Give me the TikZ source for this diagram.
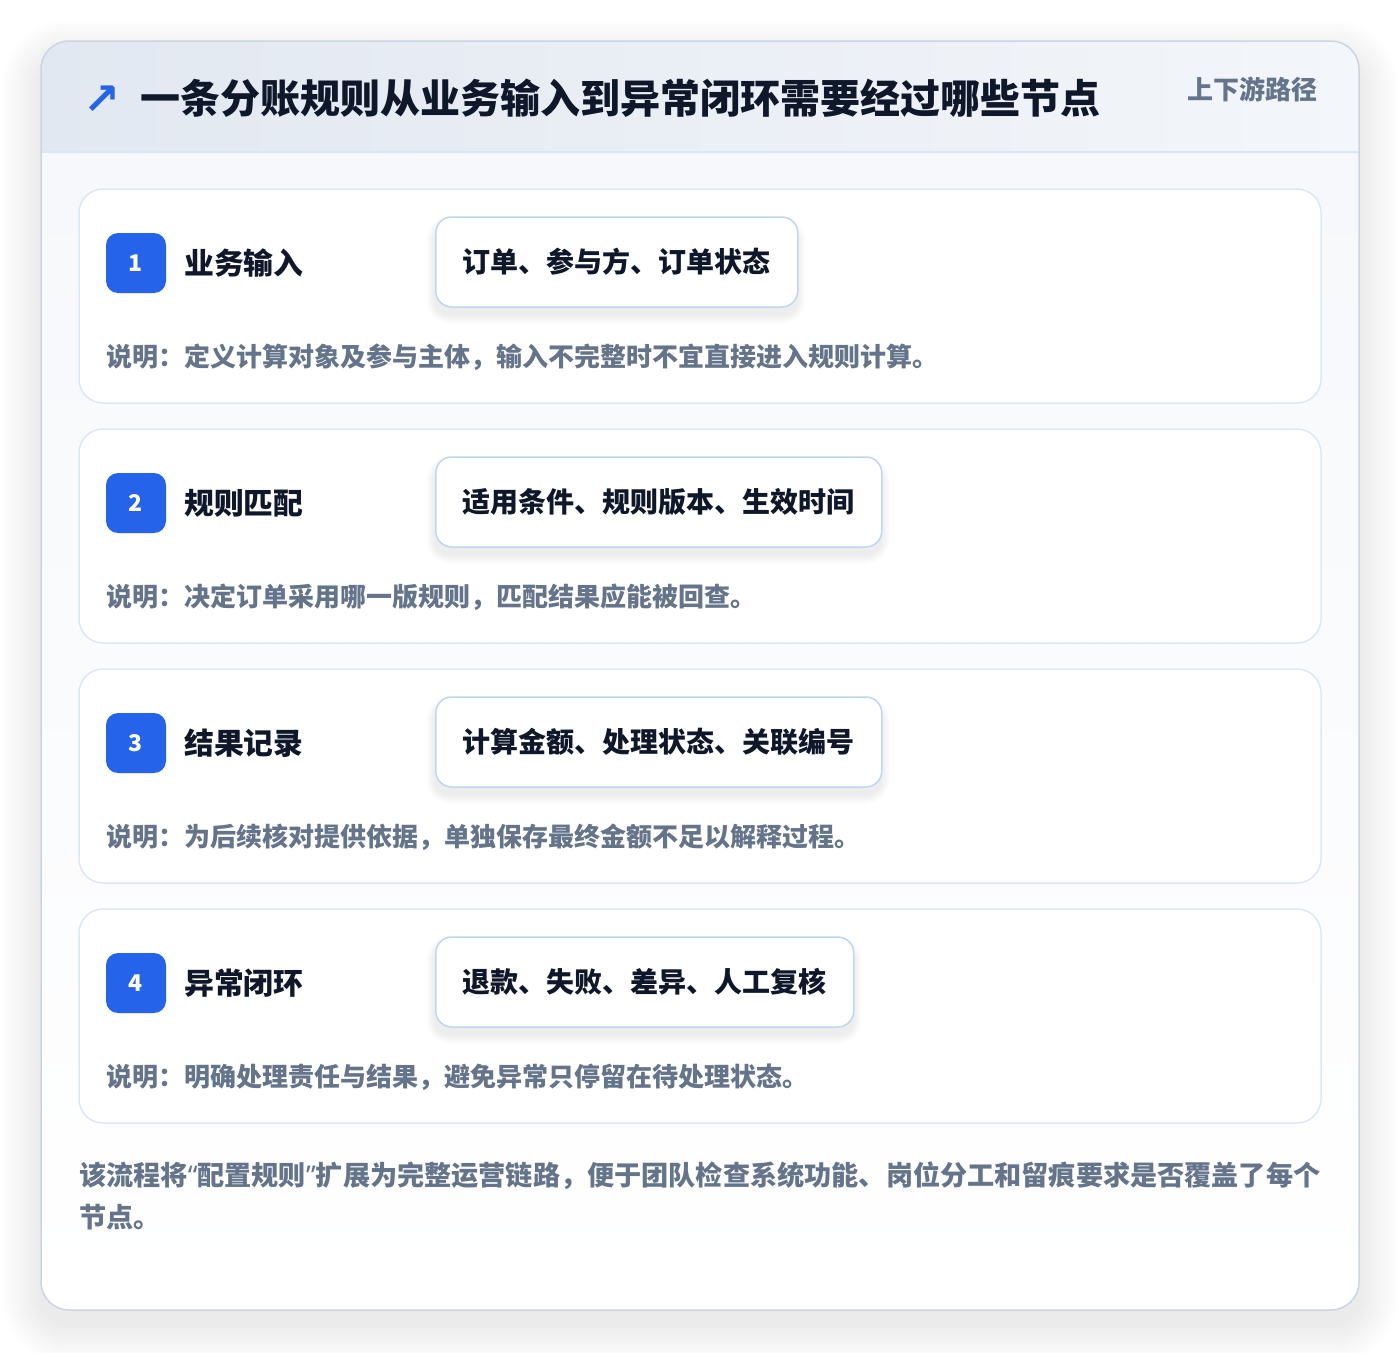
\documentclass[tikz,border=0pt]{standalone}
\usepackage{fontspec}
\setmainfont{Noto Sans CJK SC}
\newfontfamily\dejavu{DejaVu Sans}
\newfontfamily\latinq{Noto Sans}
\definecolor{accent}{HTML}{2563EB}
\definecolor{ink}{HTML}{0F172A}
\definecolor{muted}{HTML}{64748B}
\definecolor{outerline}{HTML}{CBD5E1}
\definecolor{cardline}{HTML}{DCE8F6}
\definecolor{tagline}{HTML}{BFD6F3}
\definecolor{hdrL}{HTML}{E2E8F1}
\definecolor{hdrR}{HTML}{F3F6FA}
\definecolor{hdrrule}{HTML}{DAE6F5}
\definecolor{bodytop}{HTML}{F6F8FB}
\definecolor{shadowc}{HTML}{1E293B}
\tikzset{
  outercard/.style={draw=outerline, line width=1.5pt, rounded corners=28pt},
  stepcard/.style={draw=cardline, line width=1.5pt, fill=white, rounded corners=24pt,
    minimum width=1242pt, minimum height=214pt, inner sep=0pt},
  badge/.style={fill=accent, rounded corners=12pt, minimum width=60pt, minimum height=60pt,
    inner sep=0pt, text=white, font=\bfseries\fontsize{23}{23}\selectfont},
  steptitle/.style={anchor=west, inner sep=0pt, text=ink, font=\bfseries\fontsize{29.8}{30}\selectfont},
  tagbox/.style={anchor=west, draw=tagline, line width=1.5pt, fill=white, rounded corners=16pt,
    minimum height=90pt, inner xsep=0pt, inner ysep=0pt, text=ink,
    font=\bfseries\fontsize{28}{28}\selectfont},
  desctext/.style={anchor=west, inner sep=0pt, text=muted, font=\bfseries\fontsize{26}{26}\selectfont},
  softshadow/.style={fill=shadowc, opacity=#1},
}
\begin{document}
\begin{tikzpicture}[x=1pt,y=-1pt]
\useasboundingbox (0,0) rectangle (1400,1352);
\fill[white] (0,0) rectangle (1400,1352);
% outer card soft shadow
\foreach \k in {1,...,20}{
  \fill[softshadow=0.005, rounded corners=28pt+2*\k pt]
    (41-2*\k,41+18-2*\k) rectangle (1359+2*\k,1310+14+2*\k);
}
\fill[white, rounded corners=28pt] (41,41) rectangle (1359,1310);
\begin{scope}
  \clip[rounded corners=28pt] (41,41) rectangle (1359,1310);
  \shade[top color=bodytop, bottom color=white] (41,152) rectangle (1359,1310);
  \shade[left color=hdrL, right color=hdrR] (41,41) rectangle (1359,152);
\end{scope}
\draw[hdrrule, line width=1.5pt] (41,152) -- (1359,152);
\draw[outercard] (41,41) rectangle (1359,1310);
% header
\node[anchor=center, inner sep=0pt, text=accent, font=\dejavu\bfseries\fontsize{44}{44}\selectfont] (icon) at (102,100) {↗};
\node[anchor=west, inner sep=0pt, text=ink, font=\bfseries\fontsize{40}{40}\selectfont] (title) at (140,98)
  {一条分账规则从业务输入到异常闭环需要经过哪些节点};
\node[anchor=east, inner sep=0pt, text=muted, font=\bfseries\fontsize{26}{26}\selectfont] (tagline) at (1318,89)
  {上下游路径};
% steps
\foreach \i/\ttl/\tg/\w/\dsc in {
  1/业务输入/订单、参与方、订单状态/362/说明：定义计算对象及参与主体，输入不完整时不宜直接进入规则计算。,
  2/规则匹配/适用条件、规则版本、生效时间/446/说明：决定订单采用哪一版规则，匹配结果应能被回查。,
  3/结果记录/计算金额、处理状态、关联编号/446/说明：为后续核对提供依据，单独保存最终金额不足以解释过程。,
  4/异常闭环/退款、失败、差异、人工复核/418/说明：明确处理责任与结果，避免异常只停留在待处理状态。}{
  \pgfmathsetmacro{\top}{189+240*(\i-1)}
  \node[stepcard] (card\i) at (700,\top+107) {};
  \node[badge] (badge\i) at (136,\top+74) {\i};
  \node[steptitle] (title\i) at (184,\top+74) {\ttl};
  \foreach \k in {1,...,9}{
    \fill[softshadow=0.007, rounded corners=16pt+\k pt]
      (435-\k,\top+28+8-\k) rectangle (435+\w+\k,\top+118+8+\k);
  }
  \node[tagbox, minimum width=\w pt] (tag\i) at (435,\top+73) {\tg};
  \node[desctext] (desc\i) at (106,\top+168) {\dsc};
}
% footer
\node[anchor=north west, inner sep=0pt, align=left, text=muted,
  font=\bfseries\fontsize{27.15}{42}\selectfont] (footer) at (79,1162)
  {该流程将{\latinq\bfseries “}配置规则{\latinq\bfseries ”}扩展为完整运营链路，便于团队检查系统功能、岗位分工和留痕要求是否覆盖了每个\\节点。};
\end{tikzpicture}
\end{document}
